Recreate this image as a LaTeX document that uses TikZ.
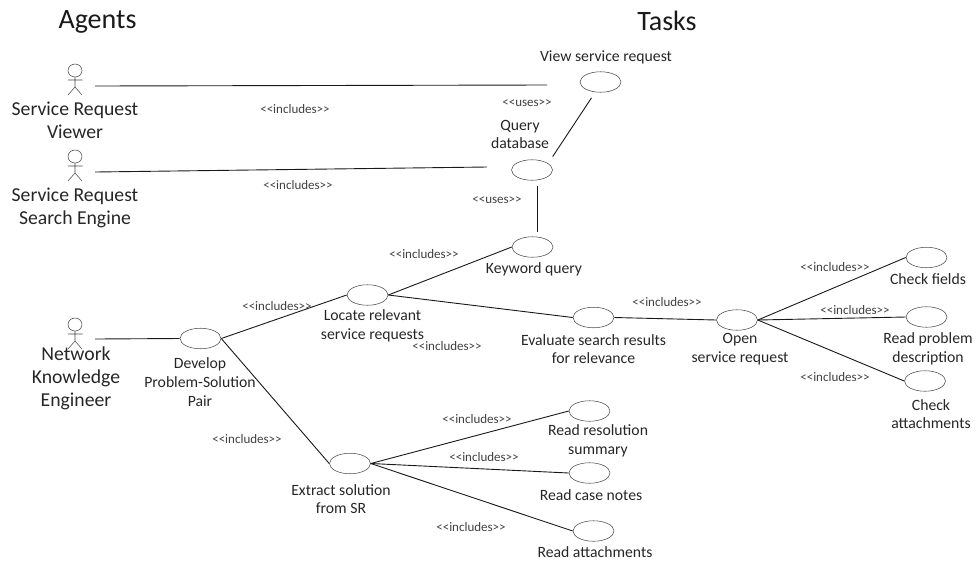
\documentclass[tikz,border=0pt]{standalone}
\usepackage{
	fontspec,			% Font Selection
	xcolor
}
\usetikzlibrary{shapes.geometric}
\setmainfont{Carlito}

\tikzset{
	task/.style={draw=black!70, line width=0.55pt, ellipse, inner sep=0pt, minimum width=41pt, minimum height=20.5pt},
	actor/.style={inner sep=0pt, minimum width=40pt, minimum height=30pt},
	link/.style={black!90, line width=0.9pt},
	heading/.style={anchor=base, font=\fontsize{28}{32}\selectfont, text=black!90},
	agentlabel/.style={align=center, font=\fontsize{19.7}{23}\selectfont, text=black!85},
	tasklabel/.style={align=center, font=\fontsize{15.7}{18.7}\selectfont, text=black!85},
	stereo/.style={font=\fontsize{13}{15}\selectfont, text=black!75},
	stickman/.pic={
		\draw[black!70, line width=0.55pt] (0,-15.5) ellipse (7 and 6.5);
		\draw[black!70, line width=0.55pt] (0,-9)--(0,1) (-7,-6)--(7.5,-6) (-7,9)--(0,1)--(7,9);
	}
}

\begin{document}
\begin{tikzpicture}[x=1pt, y=-1pt]
	\useasboundingbox (0,0) rectangle (976,563);
	\node[heading] (agents) at (97.5,28) {Agents};
	\node[heading] (tasks) at (667,30) {Tasks};

	\node[actor] (viewer) at (75,86) {};
	\node[actor] (engine) at (75,172) {};
	\node[actor] (engineer) at (75,339) {};
	\pic at (viewer) {stickman};
	\pic at (engine) {stickman};
	\pic at ([yshift=-1pt]engineer) {stickman};
	\node[agentlabel] (viewerlabel) at (75,120) {Service Request\\Viewer};
	\node[agentlabel] (enginelabel) at (75,208) {Service Request\\Search Engine};
	\node[agentlabel] (engineerlabel) at (76,378) {Network\\Knowledge\\Engineer};

	\node[task] (view) at (600.5,82) {};
	\node[task] (query) at (532,170) {};
	\node[task] (keyword) at (532.5,247) {};
	\node[task] (locate) at (367.5,295) {};
	\node[task] (develop) at (200.5,338.5) {};
	\node[task] (extract) at (350,463.5) {};
	\node[task] (evaluate) at (593.5,317.5) {};
	\node[task] (open) at (737,320) {};
	\node[task] (fields) at (926.5,257.5) {};
	\node[task] (problem) at (926.5,317) {};
	\node[task] (attach) at (925,381) {};
	\node[task] (resolution) at (589.5,411) {};
	\node[task] (notes) at (589.5,473) {};
	\node[task] (readattach) at (593.5,531) {};

	\node[tasklabel] (viewlabel) at (606,57) {View service request};
	\node[tasklabel] (querylabel) at (520,134.5) {Query\\database};
	\node[tasklabel] (keywordlabel) at (534,269) {Keyword query};
	\node[tasklabel] (locatelabel) at (372.5,325.5) {Locate relevant\\service requests};
	\node[tasklabel] (developlabel) at (200,382) {Develop\\Problem-Solution\\Pair};
	\node[tasklabel] (extractlabel) at (341,499) {Extract solution\\from SR};
	\node[tasklabel] (evaluatelabel) at (593.5,349) {Evaluate search results\\for relevance};
	\node[tasklabel] (openlabel) at (740,349.5) {Open\\service request};
	\node[tasklabel] (fieldslabel) at (928,279) {Check fields};
	\node[tasklabel] (problemlabel) at (928,349) {Read problem\\description};
	\node[tasklabel] (attachlabel) at (931,414) {Check\\attachments};
	\node[tasklabel] (resolutionlabel) at (598,440.5) {Read resolution\\summary};
	\node[tasklabel] (noteslabel) at (591,495) {Read case notes};
	\node[tasklabel] (readattachlabel) at (595,552) {Read attachments};

	\coordinate (viewerend) at (547,85);
	\coordinate (engineend) at (487,167);
	\draw[link] (viewer.east)--(viewerend);
	\draw[link] (engine.east)--(engineend);
	\draw[link] (engineer.east)--(develop.west);
	\draw[link] ([shift={(6,-6)}]query.north east)--([shift={(-9,5.3)}]view.south);
	\draw[link] ([shift={(5,5)}]query.south)--([shift={(4.5,-4)}]keyword.north);
	\draw[link] (develop.east)--(locate.west);
	\draw[link] (develop.east)--(extract.west);
	\draw[link] (locate.east)--(keyword.west);
	\draw[link] (locate.east)--(evaluate.west);
	\draw[link] (evaluate.east)--(open.west);
	\draw[link] (open.east)--(fields.west);
	\draw[link] (open.east)--(problem.west);
	\draw[link] (open.east)--(attach.west);
	\draw[link] (extract.east)--(resolution.west);
	\draw[link] (extract.east)--(notes.west);
	\draw[link] (extract.east)--(readattach.west);

	\node[stereo] (inc1) at (295,109) {<{}<includes>{}>};
	\node[stereo] (inc2) at (298,185) {<{}<includes>{}>};
	\node[stereo] (use1) at (527,103) {<{}<uses>{}>};
	\node[stereo] (use2) at (497,200) {<{}<uses>{}>};
	\node[stereo] (inc3) at (424,254) {<{}<includes>{}>};
	\node[stereo] (inc4) at (277,306) {<{}<includes>{}>};
	\node[stereo] (inc5) at (447,346) {<{}<includes>{}>};
	\node[stereo] (inc6) at (247,439) {<{}<includes>{}>};
	\node[stereo] (inc7) at (667,302) {<{}<includes>{}>};
	\node[stereo] (inc8) at (835,267) {<{}<includes>{}>};
	\node[stereo] (inc9) at (855,310) {<{}<includes>{}>};
	\node[stereo] (inc10) at (835,377) {<{}<includes>{}>};
	\node[stereo] (inc11) at (477,419) {<{}<includes>{}>};
	\node[stereo] (inc12) at (484,457) {<{}<includes>{}>};
	\node[stereo] (inc13) at (471,527) {<{}<includes>{}>};
\end{tikzpicture}
\end{document}
